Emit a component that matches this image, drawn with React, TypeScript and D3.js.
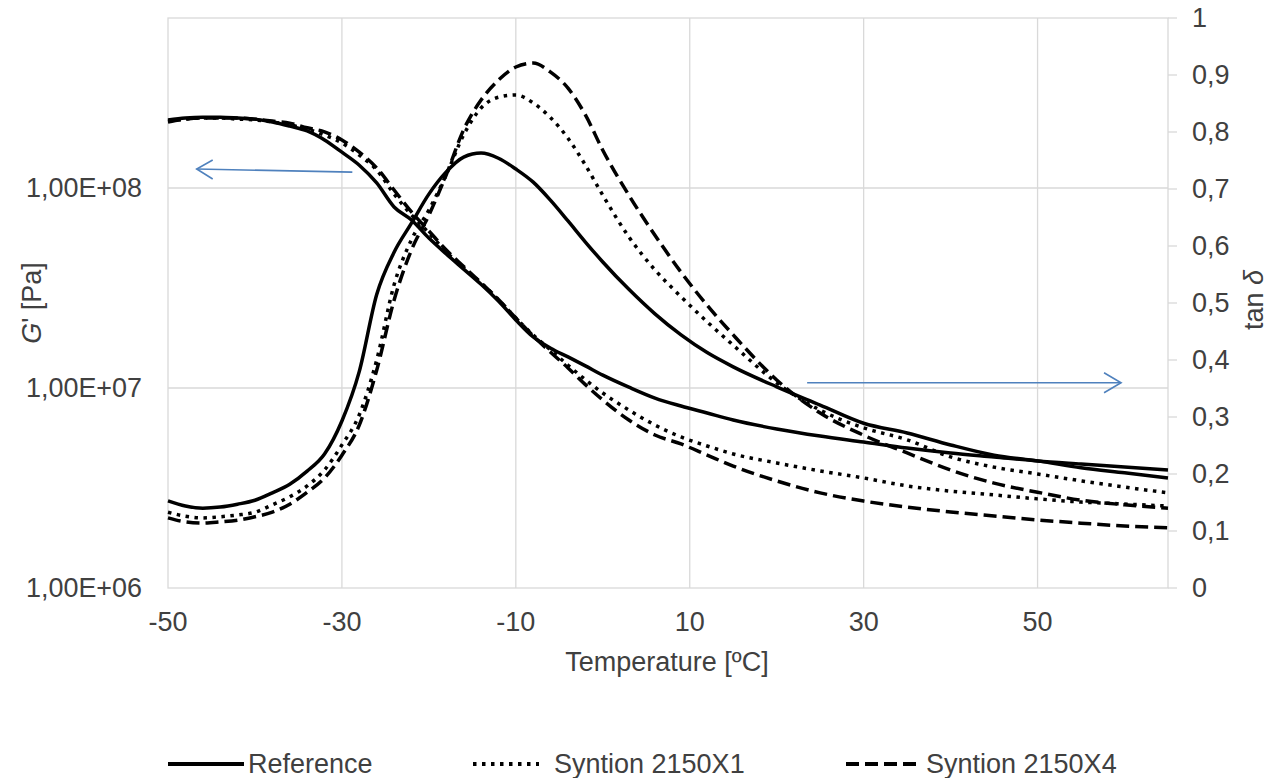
import * as React from 'react';
import * as d3 from 'd3';

// temperature grid shared by all curves [°C]
const temps = [-50, -48, -46, -44, -42, -40, -38, -36, -34, -32, -30, -28, -26, -24, -22, -20, -18, -16, -14, -12,
  -10, -8, -6, -4, -2, 0, 3, 6, 9, 12, 15, 20, 25, 30, 35, 40, 45, 50, 55, 60, 65];

// storage modulus G' [Pa]
const gRef = [2.19e8, 2.24e8, 2.26e8, 2.26e8, 2.24e8, 2.21e8, 2.14e8, 2.04e8, 1.93e8, 1.74e8,
  1.51e8, 1.30e8, 1.06e8, 8.04e7, 6.92e7, 5.62e7, 4.68e7, 3.93e7, 3.30e7, 2.72e7,
  2.19e7, 1.80e7, 1.58e7, 1.43e7, 1.29e7, 1.16e7, 1.01e7, 8.91e6, 8.13e6, 7.50e6,
  6.92e6, 6.24e6, 5.75e6, 5.37e6, 5.01e6, 4.73e6, 4.52e6, 4.32e6, 4.17e6, 4.03e6, 3.89e6];
const gX1 = [2.16e8, 2.21e8, 2.24e8, 2.24e8, 2.21e8, 2.19e8, 2.14e8, 2.07e8, 1.97e8, 1.84e8,
  1.68e8, 1.46e8, 1.23e8, 9.33e7, 7.33e7, 5.96e7, 4.79e7, 4.00e7, 3.35e7, 2.76e7,
  2.24e7, 1.84e7, 1.55e7, 1.30e7, 1.10e7, 9.44e6, 7.76e6, 6.53e6, 5.69e6, 5.13e6,
  4.68e6, 4.22e6, 3.85e6, 3.55e6, 3.24e6, 3.05e6, 2.92e6, 2.79e6, 2.69e6, 2.63e6, 2.57e6];
const gX4 = [2.14e8, 2.21e8, 2.24e8, 2.24e8, 2.24e8, 2.21e8, 2.16e8, 2.11e8, 2.00e8, 1.91e8,
  1.74e8, 1.51e8, 1.26e8, 9.77e7, 7.59e7, 6.10e7, 4.90e7, 4.05e7, 3.36e7, 2.77e7,
  2.24e7, 1.82e7, 1.51e7, 1.26e7, 1.04e7, 8.71e6, 6.92e6, 5.82e6, 5.25e6, 4.62e6,
  4.07e6, 3.43e6, 2.99e6, 2.72e6, 2.54e6, 2.40e6, 2.29e6, 2.19e6, 2.11e6, 2.04e6, 2.00e6];

// loss factor tan delta
const tanRef = [0.153, 0.144, 0.140, 0.142, 0.147, 0.154, 0.167, 0.182, 0.205, 0.235,
  0.293, 0.380, 0.515, 0.589, 0.640, 0.691, 0.730, 0.756, 0.763, 0.754,
  0.735, 0.712, 0.680, 0.644, 0.607, 0.572, 0.524, 0.481, 0.444, 0.413,
  0.388, 0.353, 0.321, 0.289, 0.272, 0.251, 0.233, 0.223, 0.211, 0.202, 0.193];
const tanX1 = [0.133, 0.126, 0.123, 0.125, 0.128, 0.133, 0.146, 0.160, 0.179, 0.207,
  0.251, 0.304, 0.400, 0.532, 0.611, 0.663, 0.725, 0.795, 0.842, 0.861,
  0.865, 0.851, 0.825, 0.789, 0.742, 0.689, 0.616, 0.558, 0.511, 0.467,
  0.426, 0.360, 0.312, 0.281, 0.260, 0.230, 0.212, 0.200, 0.188, 0.177, 0.167];
const tanX4 = [0.123, 0.116, 0.114, 0.116, 0.119, 0.125, 0.133, 0.147, 0.168, 0.193,
  0.233, 0.286, 0.382, 0.505, 0.593, 0.654, 0.725, 0.804, 0.856, 0.891,
  0.914, 0.921, 0.905, 0.877, 0.830, 0.768, 0.689, 0.619, 0.554, 0.496,
  0.444, 0.365, 0.307, 0.268, 0.237, 0.207, 0.184, 0.168, 0.154, 0.146, 0.140];

const seriesNames = ['Reference', 'Syntion 2150X1', 'Syntion 2150X4'];
const xTicks = [-50, -30, -10, 10, 30, 50];
const gTicks = [1e6, 1e7, 1e8];
const gTickLabels = ['1,00E+06', '1,00E+07', '1,00E+08'];
const tanTicks = [0, 0.1, 0.2, 0.3, 0.4, 0.5, 0.6, 0.7, 0.8, 0.9, 1];

const W = 1271, H = 778;
const left = 168, right = 1168, top = 18, bottom = 588;
const font = '"Liberation Sans", Arial, sans-serif';
const fs = 27;
const textColor = '#404040';
const gridColor = '#d9d9d9';
const arrowColor = '#4f81bd';

const dashes = [null, '3.5 5.5', '13 6'];

export default function App() {
  const x = d3.scaleLinear().domain([-50, 65]).range([left, right]);
  const yG = d3.scaleLog().domain([1e6, Math.pow(10, 8.85)]).range([bottom, top]);
  const yT = d3.scaleLinear().domain([0, 1]).range([bottom, top]);

  const lineG = d3.line<number>().x((d, i) => x(temps[i])).y(d => yG(d)).curve(d3.curveMonotoneX);
  const lineT = d3.line<number>().x((d, i) => x(temps[i])).y(d => yT(d)).curve(d3.curveMonotoneX);

  const gSeries = [gRef, gX1, gX4];
  const tSeries = [tanRef, tanX1, tanX4];

  const fmtTan = (v: number) => (v === 0 ? '0' : v === 1 ? '1' : v.toFixed(1).replace('.', ','));

  // annotation arrows (in data units)
  const arrowL = { x1: x(-28.8), y1: yG(1.2e8), x2: x(-46.7), y2: yG(1.245e8) };
  const arrowR = { x1: x(23.5), y1: yT(0.36), x2: x(59.6), y2: yT(0.36) };

  const legendX = [168, 473, 846];
  const legendY = 764;

  return (
    <svg width={W} height={H} style={{ position: 'absolute', left: 0, top: 0, background: '#fff' }}
      fontFamily={font}>
      {/* gridlines */}
      {xTicks.slice(1).map(t => (
        <line key={'vx' + t} x1={x(t)} x2={x(t)} y1={top} y2={bottom} stroke={gridColor} strokeWidth={1.3} />
      ))}
      {gTicks.slice(1).map(t => (
        <line key={'hg' + t} x1={left} x2={right} y1={yG(t)} y2={yG(t)} stroke={gridColor} strokeWidth={1.3} />
      ))}
      <rect x={left} y={top} width={right - left} height={bottom - top} fill="none" stroke={gridColor} strokeWidth={1.3} />
      {/* right axis ticks */}
      {tanTicks.map(t => (
        <line key={'tt' + t} x1={right} x2={right + 9} y1={yT(t)} y2={yT(t)} stroke={gridColor} strokeWidth={1.3} />
      ))}

      {/* curves */}
      {gSeries.map((s, i) => (
        <path key={'g' + i} d={lineG(s) || ''} fill="none" stroke="#000" strokeWidth={3.5}
          strokeDasharray={dashes[i] || undefined} />
      ))}
      {tSeries.map((s, i) => (
        <path key={'t' + i} d={lineT(s) || ''} fill="none" stroke="#000" strokeWidth={3.5}
          strokeDasharray={dashes[i] || undefined} />
      ))}

      {/* arrows */}
      <g stroke={arrowColor} strokeWidth={1.6} fill="none">
        <line x1={arrowL.x1} y1={arrowL.y1} x2={arrowL.x2} y2={arrowL.y2} />
        <polyline points={`${arrowL.x2 + 16},${arrowL.y2 - 9} ${arrowL.x2},${arrowL.y2} ${arrowL.x2 + 16},${arrowL.y2 + 10}`} />
        <line x1={arrowR.x1} y1={arrowR.y1} x2={arrowR.x2} y2={arrowR.y2} />
        <polyline points={`${arrowR.x2 - 17},${arrowR.y2 - 10} ${arrowR.x2},${arrowR.y2} ${arrowR.x2 - 17},${arrowR.y2 + 10}`} />
      </g>

      {/* x axis labels */}
      {xTicks.map(t => (
        <text key={'xl' + t} x={x(t)} y={622} dy="0.35em" textAnchor="middle" fontSize={fs} fill={textColor}>{t}</text>
      ))}
      <text x={667} y={662} dy="0.35em" textAnchor="middle" fontSize={fs} fill={textColor}>Temperature [ºC]</text>

      {/* left axis labels */}
      {gTicks.map((t, i) => (
        <text key={'gl' + t} x={142} y={yG(t)} dy="0.35em" textAnchor="end" fontSize={fs} fill={textColor}
          textLength={116} lengthAdjust="spacingAndGlyphs">{gTickLabels[i]}</text>
      ))}
      <text transform={`translate(32,303) rotate(-90)`} dy="0.35em" textAnchor="middle" fontSize={fs} fill={textColor}>
        <tspan fontStyle="italic">G</tspan>' [Pa]
      </text>

      {/* right axis labels */}
      {tanTicks.map(t => (
        <text key={'rl' + t} x={1192} y={yT(t)} dy="0.35em" textAnchor="start" fontSize={fs} fill={textColor}>{fmtTan(t)}</text>
      ))}
      <text transform={`translate(1254,300) rotate(-90)`} dy="0.35em" textAnchor="middle" fontSize={fs} fill={textColor}>
        tan <tspan fontStyle="italic">δ</tspan>
      </text>

      {/* legend */}
      {seriesNames.map((name, i) => (
        <g key={name}>
          <line x1={legendX[i]} x2={legendX[i] + (i === 1 ? 66 : 76)} y1={legendY} y2={legendY} stroke="#000" strokeWidth={4}
            strokeDasharray={dashes[i] || undefined} />
          <text x={legendX[i] + (i === 1 ? 81 : 80)} y={legendY} dy="0.35em" fontSize={fs} fill={textColor}>{name}</text>
        </g>
      ))}
    </svg>
  );
}
